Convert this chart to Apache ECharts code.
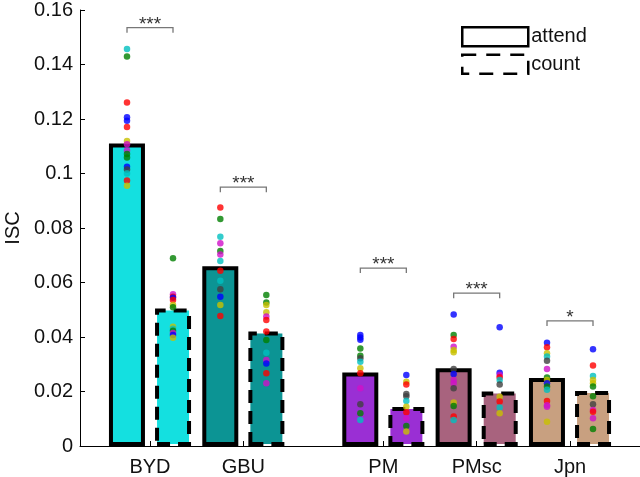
<!DOCTYPE html>
<html>
<head>
<meta charset="utf-8">
<script src="https://cdn.jsdelivr.net/npm/echarts@6/dist/echarts.min.js"></script>
<style>
  html, body { margin: 0; padding: 0; background: #fff; }
  #chart { width: 640px; height: 477px; }
</style>
</head>
<body>
<div id="chart"></div>
<script>
// conditions, placed like the original (gap between the two groups)
const groupNames = ['BYD', 'GBU', 'PM', 'PMsc', 'Jpn']
const groupX = [1, 2, 3.5, 4.5, 5.5]
const barColors = ['#14e0e0', '#0c9494', '#9a2fd4', '#a8637e', '#c8a080']

const attendMeans = [0.111, 0.066, 0.027, 0.0285, 0.025]
const countMeans = [0.0505, 0.042, 0.0143, 0.020, 0.0202]

// significance brackets
const sigHeights = [0.1535, 0.095, 0.0653, 0.0561, 0.0459]
const sigStars = ['***', '***', '***', '***', '*']

// single subjects (value, colour code)
const bydAttend = [[0.1457,'c'],[0.1429,'g'],[0.1261,'r'],[0.1206,'b'],[0.1194,'b'],[0.1171,'r'],[0.1119,'y'],[0.1107,'m'],[0.1084,'m'],[0.1072,'g'],[0.1059,'g'],[0.1025,'b'],[0.1015,'k'],[0.1000,'c'],[0.0974,'r'],[0.0955,'y']]
const bydCount = [[0.0689,'g'],[0.0557,'m'],[0.0548,'r'],[0.0544,'b'],[0.0536,'r'],[0.0517,'y'],[0.0509,'g'],[0.0438,'y'],[0.0430,'c'],[0.0423,'g'],[0.0415,'m'],[0.0407,'b'],[0.0397,'y']]
const gbuAttend = [[0.0875,'r'],[0.0833,'g'],[0.0768,'c'],[0.0744,'m'],[0.0716,'g'],[0.0703,'m'],[0.0679,'c'],[0.0643,'r'],[0.0606,'c'],[0.0575,'k'],[0.0548,'b'],[0.0517,'y'],[0.0477,'r']]
const gbuCount = [[0.0554,'g'],[0.0527,'g'],[0.0517,'y'],[0.0491,'y'],[0.0475,'m'],[0.0462,'r'],[0.0420,'r'],[0.0389,'g'],[0.0342,'c'],[0.0316,'m'],[0.0303,'b'],[0.0267,'r'],[0.0230,'m']]
const pmAttend = [[0.0407,'b'],[0.0398,'b'],[0.0390,'b'],[0.0358,'g'],[0.0331,'g'],[0.0322,'k'],[0.0309,'c'],[0.0285,'y'],[0.0267,'r'],[0.0212,'m'],[0.0153,'k'],[0.0120,'g'],[0.0095,'c']]
const pmCount = [[0.0261,'b'],[0.0236,'y'],[0.0226,'r'],[0.0191,'k'],[0.0183,'k'],[0.0165,'c'],[0.0144,'y'],[0.0124,'r'],[0.0102,'m'],[0.0073,'g'],[0.0053,'y']]
const pmscAttend = [[0.0483,'b'],[0.0407,'g'],[0.0393,'r'],[0.0364,'m'],[0.0352,'y'],[0.0344,'y'],[0.0283,'k'],[0.0264,'b'],[0.0242,'m'],[0.0230,'m'],[0.0212,'k'],[0.0160,'y'],[0.0147,'g'],[0.0108,'r'],[0.0095,'c']]
const pmscCount = [[0.0436,'b'],[0.0269,'b'],[0.0261,'m'],[0.0252,'r'],[0.0242,'c'],[0.0226,'k'],[0.0181,'y'],[0.0163,'r'],[0.0141,'c'],[0.0120,'y']]
const jpnAttend = [[0.0379,'b'],[0.0362,'r'],[0.0340,'y'],[0.0328,'c'],[0.0313,'k'],[0.0283,'m'],[0.0251,'g'],[0.0242,'y'],[0.0230,'b'],[0.0218,'g'],[0.0206,'c'],[0.0165,'r'],[0.0150,'m'],[0.0144,'m'],[0.0089,'y']]
const jpnCount = [[0.0355,'b'],[0.0295,'r'],[0.0257,'c'],[0.0242,'y'],[0.0230,'y'],[0.0218,'g'],[0.0183,'g'],[0.0153,'k'],[0.0132,'m'],[0.0126,'r'],[0.0102,'m'],[0.0062,'g']]

const attendDots = [bydAttend, gbuAttend, pmAttend, pmscAttend, jpnAttend]
const countDots = [bydCount, gbuCount, pmCount, pmscCount, jpnCount]

// matlab's old colour order
const dotColor = { b: '#0000ff', g: '#007f00', r: '#ff0000', c: '#00bfbf', m: '#d010c8', y: '#c8c000', k: '#404040' }

const FONT = 'Liberation Sans, Arial, sans-serif'
const HALF = 23 // px from group centre to bar centre

function dotData(lists) {
  const out = []
  lists.forEach((list, i) => {
    list.forEach(([v, c]) => {
      out.push({ value: [groupX[i], v], itemStyle: { color: dotColor[c] } })
    })
  })
  return out
}

const chart = echarts.init(document.getElementById('chart'), null, { renderer: 'canvas' })

chart.setOption({
  animation: false,
  textStyle: { fontFamily: FONT },
  grid: { left: 80, right: 0, top: 10, bottom: 31, containLabel: false, outerBoundsMode: 'none' },
  legend: {
    orient: 'vertical',
    left: 461,
    top: 26,
    padding: 0,
    itemWidth: 66,
    itemHeight: 19,
    itemGap: 6,
    icon: 'rect',
    textStyle: { fontSize: 20, lineHeight: 20, color: '#111', fontFamily: FONT, padding: [0, 0, 0, -2] },
    data: [
      { name: 'attend', itemStyle: { color: '#fff', borderColor: '#000', borderWidth: 2.5, borderType: 'solid' } },
      { name: 'count', itemStyle: { color: '#fff', borderColor: '#000', borderWidth: 2.5, borderType: [14, 10] } },
    ],
  },
  xAxis: {
    type: 'value',
    min: 0.25,
    max: 6.25,
    splitLine: { show: false },
    axisLine: { show: true, onZero: false, lineStyle: { color: '#000', width: 1 } },
    axisTick: { show: true, inside: true, length: 5, customValues: groupX, lineStyle: { color: '#000' } },
    axisLabel: {
      fontSize: 20,
      color: '#111',
      margin: 11,
      customValues: groupX,
      formatter: (v) => groupNames[groupX.indexOf(v)] || '',
    },
  },
  yAxis: {
    type: 'value',
    min: 0,
    max: 0.16,
    interval: 0.02,
    name: 'ISC',
    nameLocation: 'middle',
    nameGap: 56,
    nameTextStyle: { fontSize: 20, color: '#111' },
    splitLine: { show: false },
    axisLine: { show: true, lineStyle: { color: '#000', width: 1 } },
    axisTick: { show: true, inside: true, length: 5, lineStyle: { color: '#000' } },
    axisLabel: { fontSize: 20, color: '#111', margin: 7 },
  },
  series: [
    {
      name: 'attend',
      type: 'bar',
      barWidth: 36,
      barGap: '28%',
      data: attendMeans.map((v, i) => ({ value: [groupX[i], v], itemStyle: { color: barColors[i] } })),
      itemStyle: { borderColor: '#000', borderWidth: 4 },
      z: 2,
    },
    {
      name: 'count',
      type: 'bar',
      barWidth: 36,
      barGap: '28%',
      data: countMeans.map((v, i) => ({ value: [groupX[i], v], itemStyle: { color: barColors[i] } })),
      itemStyle: { borderColor: '#000', borderWidth: 4, borderType: [13, 8] },
      z: 2,
    },
    {
      name: 'attend dots',
      type: 'scatter',
      symbolSize: 6.5,
      symbolOffset: [-HALF, 0],
      data: dotData(attendDots),
      z: 5,
    },
    {
      name: 'count dots',
      type: 'scatter',
      symbolSize: 6.5,
      symbolOffset: [HALF, 0],
      data: dotData(countDots),
      z: 5,
    },
    {
      name: 'sig',
      type: 'custom',
      data: sigHeights.map((h, i) => [groupX[i], h, i]),
      renderItem: (params, api) => {
        const p = api.coord([api.value(0), api.value(1)])
        const star = sigStars[api.value(2)]
        return {
          type: 'group',
          children: [
            {
              type: 'polyline',
              shape: { points: [[p[0] - HALF, p[1] + 5], [p[0] - HALF, p[1]], [p[0] + HALF, p[1]], [p[0] + HALF, p[1] + 5]] },
              style: { stroke: '#777', lineWidth: 1.3, fill: null },
            },
            {
              type: 'text',
              x: p[0],
              y: p[1] - 3,
              style: { text: star, fontSize: 19, fontFamily: FONT, fill: '#333', align: 'center', verticalAlign: 'middle' },
            },
          ],
        }
      },
      z: 6,
    },
  ],
})
</script>
</body>
</html>
